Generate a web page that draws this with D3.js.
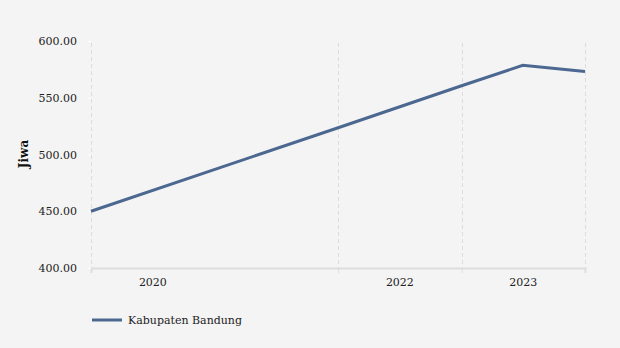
<!DOCTYPE html>
<html><head><meta charset="utf-8">
<script src="https://cdn.jsdelivr.net/npm/d3@7"></script>
<style>
html,body{margin:0;padding:0;background:#f4f4f4;}
svg{display:block;font-family:"DejaVu Serif",serif;}
</style></head>
<body><svg id="c" width="620" height="348"></svg>
<script>
const seriesName = "Kabupaten Bandung";
const dates = ["2020-01-01","2022-01-01","2023-01-01","2023-07-01","2024-01-01"];
const values = [450.0, 523.6, 560.6, 578.6, 573.2];
const gridDates = ["2020-01-01","2022-01-01","2023-01-01","2024-01-01"];
const tickLabels = ["2020","2022","2023"];
const yTicks = [400,450,500,550,600];

const parse = d3.timeParse("%Y-%m-%d");
const data = dates.map((d,i)=>({date:parse(d), value:values[i]}));
const svg = d3.select("#c");
const m = {l:91, r:585, t:41, b:268};
const x = d3.scaleTime().domain([parse("2020-01-01"), parse("2024-01-01")]).range([m.l, m.r]);
const y = d3.scaleLinear().domain([400,600]).range([m.b, m.t]);

// vertical dashed gridlines
svg.append("g").selectAll("line").data([parse("2020-01-01")].concat(gridDates.slice(1).map(parse))).join("line")
  .attr("x1",d=>Math.round(x(d))+0.5).attr("x2",d=>Math.round(x(d))+0.5)
  .attr("y1",m.t+2).attr("y2",m.b)
  .attr("stroke","#dcdcdc").attr("stroke-width",1).attr("stroke-dasharray","4,3");

// x axis baseline and ticks
const xa = svg.append("g").attr("transform",`translate(0,${m.b})`)
  .call(d3.axisBottom(x).tickValues(gridDates.map(parse)).tickSize(5).tickFormat(""));
xa.select(".domain").attr("stroke","#dddddd").attr("stroke-width",2);
xa.selectAll(".tick line").attr("stroke","#dddddd");

// x labels centered in year bands
svg.append("g").selectAll("text").data(tickLabels).join("text")
  .attr("x",d=>{const s=parse(d+"-01-01"), e=parse((+d+1)+"-01-01"); return (x(s)+x(e))/2;})
  .attr("y",286).attr("text-anchor","middle").attr("font-size",11).attr("fill","#222")
  .text(d=>d);

// y axis
const ya = svg.append("g").attr("transform",`translate(${m.l},0)`)
  .call(d3.axisLeft(y).tickValues(yTicks).tickSize(3).tickPadding(11).tickFormat(d3.format(".2f")));
ya.select(".domain").remove();
ya.selectAll(".tick line").attr("stroke","#ffffff");
ya.selectAll(".tick text").attr("font-size",11).attr("fill","#222").attr("font-family","DejaVu Serif, serif");

svg.append("text").attr("transform","translate(28,154) rotate(-90)")
  .attr("text-anchor","middle").attr("font-size",12).attr("font-weight","bold").attr("fill","#111")
  .text("Jiwa");

// line
svg.append("path").datum(data)
  .attr("d", d3.line().x(d=>x(d.date)).y(d=>y(d.value)))
  .attr("fill","none").attr("stroke","#4c6890").attr("stroke-width",3);

// legend
svg.append("line").attr("x1",92).attr("x2",122).attr("y1",320).attr("y2",320)
  .attr("stroke","#4c6890").attr("stroke-width",3);
svg.append("text").attr("x",128).attr("y",324).attr("font-size",11).attr("fill","#222").text(seriesName);
</script></body></html>
